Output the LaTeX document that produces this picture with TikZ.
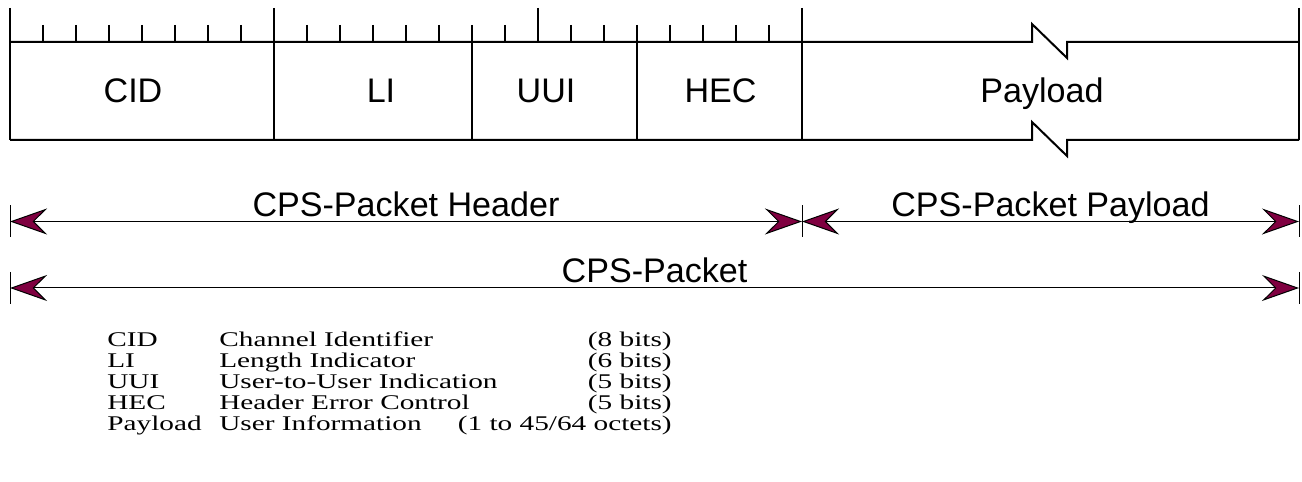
\documentclass[tikz,border=0pt]{standalone}
\usepackage{fontspec}
\usepackage{tikz}
\usetikzlibrary{arrows.meta}
\setmainfont{Liberation Sans}
\newfontfamily\legendfont{Liberation Serif}[FakeStretch=1.4]
\definecolor{tipred}{HTML}{7F0040}

\begin{document}
\begin{tikzpicture}[x=0.02cm, y=-0.02cm,
    frame/.style={line width=0.04cm},
    tick/.style={line width=0.022cm},
    bar/.style={line width=0.02cm},
    dimtip/.tip={Stealth[length=0.74cm, width=0.52cm, inset=0.26cm, fill=tipred]},
    dim/.style={line width=0.02cm, dimtip-dimtip},
    field/.style={anchor=base, inner sep=0pt, font=\fontsize{19.4}{23}\selectfont},
    span/.style={anchor=base, inner sep=0pt, yshift=0.1cm, font=\fontsize{19.4}{23}\selectfont},
    legend/.style={inner sep=0pt, font=\legendfont\fontsize{11.9}{14}\selectfont}]
  \useasboundingbox (0,0) rectangle (1302,482);

  % bit ruler
  \foreach \i in {1,...,23}
    \draw[tick] (10+33*\i,25) -- (10+33*\i,42);
  \foreach \i in {0,8,16,24}
    \draw[frame] (10+33*\i,8) -- (10+33*\i,42);
  \draw[frame] (1299,8) -- (1299,140);

  % fields
  \foreach \i in {0,8,14,19,24}
    \draw[frame] (10+33*\i,42) -- (10+33*\i,140);
  \draw[frame] (10,42) -- (1032,42) -- (1032,24) -- (1067,58) -- (1067,42) -- (1299,42);
  \draw[frame] (10,140) -- (1032,140) -- (1032,122) -- (1067,156) -- (1067,140) -- (1299,140);

  \node[field] (cid) at (133,103) {CID};
  \node[field] (li) at (381,103) {LI};
  \node[field] (uui) at (546,103) {UUI};
  \node[field] (hec) at (720.5,103) {HEC};
  \node[field] (payload) at (1042,103) {Payload};

  % spans
  \coordinate (hl) at (10,221.5);
  \coordinate (hr) at (802,221.5);
  \coordinate (pr) at (1299,221.5);
  \coordinate (tl) at (10,288);
  \coordinate (tr) at (1299,288);
  \foreach \c in {hl,hr,pr}
    \draw[bar] ([yshift=0.32cm]\c) -- ([yshift=-0.32cm]\c);
  \foreach \c in {tl,tr}
    \draw[bar] ([yshift=0.32cm]\c) -- ([yshift=-0.32cm]\c);
  \draw[dim] (hl) -- node[span] (hdrlbl) {CPS-Packet Header} (hr);
  \draw[dim] (hr) -- node[span] (paylbl) {CPS-Packet Payload} (pr);
  \draw[dim] (tl) -- node[span] (pktlbl) {CPS-Packet} (tr);

  % legend
  \foreach \a/\b/\c [count=\r] in {CID/Channel Identifier/(8 bits),
      LI/Length Indicator/(6 bits),
      UUI/User-to-User Indication/(5 bits),
      HEC/Header Error Control/(5 bits),
      Payload/User Information/{(1 to 45/64 octets)}} {
    \node[legend, anchor=base west] (abbr\r) at (107,347+20.8*\r-20.8) {\a};
    \node[legend, anchor=base west] (desc\r) at (219,347+20.8*\r-20.8) {\b};
    \node[legend, anchor=base east] (size\r) at (672,347+20.8*\r-20.8) {\c};
  }
\end{tikzpicture}
\end{document}
